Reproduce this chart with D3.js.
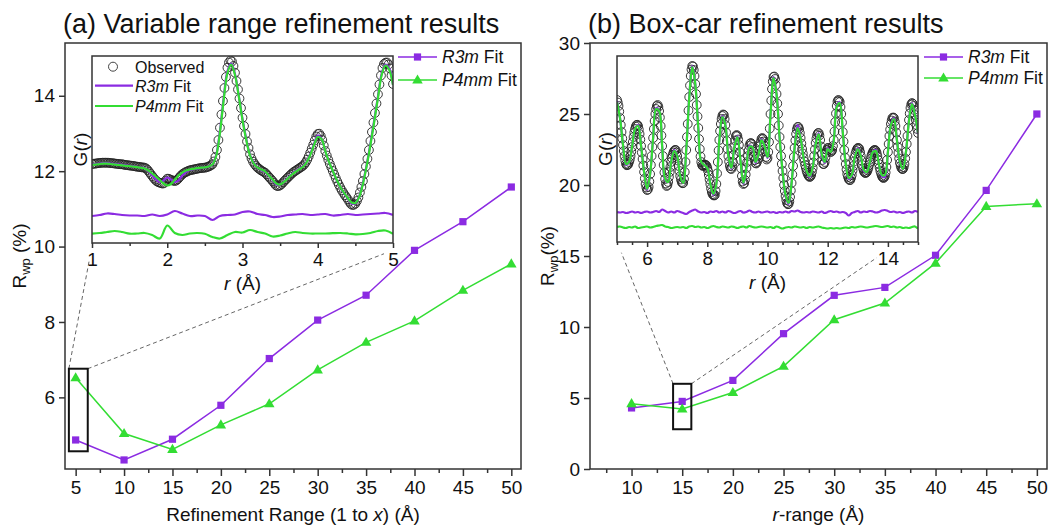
<!DOCTYPE html>
<html>
<head>
<meta charset="utf-8">
<script src="https://cdn.jsdelivr.net/npm/d3@7"></script>
<style>
  body { margin: 0; background: #fff; }
  text { font-family: "Liberation Sans", Arial, sans-serif; fill: #111; }
</style>
</head>
<body>
<svg id="chart" width="1057" height="529"></svg>
<script>
/*
 * Two panels of Rwp vs refinement range, each with a G(r) inset
 * Uses d3.js v7
 */

// ---- main panel data ----
var rangeA = [5, 10, 15, 20, 25, 30, 35, 40, 45, 50];
var rwpR3mA = [4.87, 4.34, 4.89, 5.79, 7.03, 8.05, 8.71, 9.90, 10.66, 11.58];
var rwpP4mmA = [6.52, 5.04, 4.62, 5.27, 5.83, 6.73, 7.46, 8.03, 8.84, 9.54];

var rangeB = [10, 15, 20, 25, 30, 35, 40, 45, 50];
var rwpR3mB = [4.30, 4.76, 6.24, 9.53, 12.23, 12.79, 15.05, 19.62, 25.0];
var rwpP4mmB = [4.60, 4.22, 5.39, 7.23, 10.51, 11.69, 14.50, 18.49, 18.68];

// ---- tick labels ----
var xTicksA = [5, 10, 15, 20, 25, 30, 35, 40, 45, 50];
var xMinorA = [7.5, 12.5, 17.5, 22.5, 27.5, 32.5, 37.5, 42.5, 47.5];
var yTicksA = [6, 8, 10, 12, 14];
var xTicksB = [10, 15, 20, 25, 30, 35, 40, 45, 50];
var xMinorB = [7.5, 12.5, 17.5, 22.5, 27.5, 32.5, 37.5, 42.5, 47.5];
var yTicksB = [0, 5, 10, 15, 20, 25, 30];
var insetTicksA = [1, 2, 3, 4, 5];
var insetMinorA = [1.5, 2.5, 3.5, 4.5];
var insetTicksB = [6, 8, 10, 12, 14];
var insetMinorB = [5, 5.5, 6.5, 7, 7.5, 8.5, 9, 9.5, 10.5, 11, 11.5, 12.5, 13, 13.5, 14.5, 15];

// zoom boxes and dashed connectors (in main-axis units)
var zoomBoxA = [4.3, 6.25, 4.57, 6.76];   // x0, x1, y0, y1
var connectA = [[6.38, 9.6], [36.85, 9.81]];
var zoomBoxB = [14.1, 15.9, 2.8, 6.0];
var connectB = [[9.0, 15.23], [34.2, 14.88]];

// ---- inset (a): G(r), arbitrary units, r = 1..5 ----
var obsStartA = 1, obsStepA = 0.02;
var gObsA = [
  79,79.2,79.4,79.6,79.8,80,80.2,80.3,80.3,80.3,
  80.3,80.2,80,79.9,79.7,79.5,79.3,79.1,78.9,78.8,
  78.7,78.4,78.1,77.9,77.7,77.5,77.3,77.1,76.9,76.6,
  76.3,76.1,75.9,75.7,75.5,75.3,74.5,73,71,69,
  67,65,63.2,61.8,60.8,60.3,59.8,59.4,60,62.5,
  64.3,64.2,63.4,62.8,62.3,62,62.5,63.8,65.5,67.2,
  68.7,69.8,70.7,71.4,72.1,72.7,73,73.3,73.7,74,
  74.3,74.6,74.9,75.1,75.2,75.3,75.7,76.2,76.8,77.6,
  78.7,81.5,86,93,103,115.3,128.5,142,155,166,
  175.3,180.5,182.5,181.5,177,170.3,162,153.5,144.5,135,
  125.3,117,109,101.5,95,88.7,84.5,81.3,79,77,
  75.3,74.2,73,72,71.2,70.3,68.7,67,65.3,63.7,
  62,60,58,57,57,57.7,59,60.7,62.3,63.8,
  65.3,66.8,68.3,69.7,71,72,73,74,75,76,
  77,78.6,80.6,83.3,86.5,90.3,94.3,98.3,102.5,106.5,
  109,109.3,107,103,97.5,92,87.5,83.2,79.2,75.6,
  72,68.4,64.8,61.4,58.3,55.3,52.6,50.2,47.8,45.8,
  43.7,41.2,39,38,38.3,39.3,42,45.5,50.5,56,
  62,69,76.5,84.2,93,102,111,120.5,130,139.5,
  148.7,158.5,167.5,175,179,180.3,180.5,178.5,174.5,167.5,
  159
];
var fitStartA = 1, fitStepA = 0.05;
var gFitR3mA = [
  78.5,79,79.5,79.8,79.8,79.5,79,78.5,78.2,77.6,
  77.1,76.6,76,75.5,74.8,72,67.5,63.5,61,62.5,
  65.5,63.5,61,62.5,67.5,71,73,74,74.6,75.2,
  75.5,76.5,78.6,88,112,145,172,179.5,169,147.5,
  124,104,88,79.8,75.5,73,71,67,63,58.5,
  58.5,61.2,65,68.5,71.5,74,76.5,81,89,99,
  107.5,104.5,92,81,72,63.2,55.8,49.5,44.5,39.5,
  39.7,46.5,60,78,99.5,122.5,146.5,169.5,178.5,174.5,
  158.5
];
var gFitP4mmA = [
  78,78.5,79,79.3,79.3,79,78.5,78,77.7,77.2,
  76.8,76.3,75.8,75.3,74.5,72.5,69.5,66.5,63,59.5,
  57.5,59,63.5,67.5,70.5,72.5,73.5,74.2,74.8,75.3,
  75.6,76.5,78.5,87,110,143,170,178.5,168,147,
  123,103,87.5,79.5,75.5,73.5,71.5,67.5,63.5,59.5,
  58.5,61,64.5,68,71,73.5,76,80.5,88,98,
  106,104,92,81,72,63.5,56,50,45,40.5,
  40,46,59,77,98,121,145,168,177.5,173,
  158
];
var diffStartA = 1, diffStepA = 0.1;
var gDiffR3mA = [
  27,28,29.5,29,28,27.5,27.5,27,28.5,27,
  28.5,32,29.5,27,27.5,27,23,27,28,28.5,
  31,31.5,29,28,26,26.5,28,28.5,29,28,
  28.5,29,27.5,28,29,28,28.5,29,29.5,30,
  28
];
var gDiffP4mmA = [
  9.3,10,11,12,11,9.3,9.5,10,8,4.5,
  17.5,10,8,9.5,10,9.3,6,4.5,8,11,
  10.5,13,11,9.5,6.5,7.5,9.5,11,10,9.5,
  9.5,9.5,9.8,10,9.5,8.7,9,10,12,12.5,
  9.3
];

// ---- inset (b): G(r), arbitrary units, r = 5..15 ----
var obsStartB = 5, obsStepB = 0.025;
var gObsB = [
  142,139.5,136,130.5,124,117,110,103.5,97,91,86,81.5,78,76.8,77,78,80,82.5,86,90.5,
  95,100,105,109.5,113,115.5,117,117.2,116,112.5,108,102.5,96,89.5,83,76.5,70,63.5,58,54.5,
  52,52.5,55,60.5,68,77,86,95,104,113,121,128,133,136,137,135,131,124.5,116,106.5,
  96,86,77,69.5,63,58.5,56,57,60,65,70,75,80,84,87,89.5,91,92,92,89.5,
  86,81.5,76,71,66,62.5,60,58.8,59,63,70,80,92,105,118,131.5,145,156.5,166,172.5,
  176,175.5,172,166,158,148,137,125.5,114,103,93,85.5,80,77,76,76.3,77,77.3,77,76,
  74,71,67,62.5,58,53.5,50,48,47,46.5,47,51,58,68.5,80,91.5,102,111,118,123,
  126,127.5,127,123,117,109.5,101,93,86,80.5,76,73.5,73,75.5,80,87,95,101.5,106,107,
  106,102.5,97,90,82,73.5,66,60.5,58,58.8,62,67.5,74,80,86,91.5,96,98.5,99,97.8,
  95,90.5,86,81.8,79,78.5,80,83,87,91.5,96,100,103,104,103,100.5,96,90.5,85,82.5,
  84,90,100,113.5,128,141.5,153,160.5,165,165.5,163,157,148,138.5,128,116.5,105,95,86,78,
  71,64,57,51,46,42,39,37.8,38,40.5,45,51.5,59,67.5,76,85,94,101.5,108,112.5,
  115,115,113,109,104,98.5,93,88.5,84,80.5,77,74,71,69,67,65.8,65,65.5,67,70,
  74,79.5,86,92.5,99,103.5,107,108.8,109,106.5,102,95.5,88,82,78,78,80,84.5,89,92,
  94,94,93,91.5,90,90.5,92,96,102,110.5,120,128.5,136,140.5,142,141.5,140,135,128,119.5,
  110,100.5,92,84.5,78,72.5,68,65,63,62,62,64,67,71.5,76,80.5,85,88.5,91,93,
  94,94,93,90,86,81.5,77,73.5,71,69.5,69,69.3,70,71.8,74,77,80,83,86,88.3,
  90,91.3,92,92,91,89,86,82,78,74.3,71,68.3,66,64.7,64,64.5,66,69.5,75,82,
  90,98,106,112.5,118,121.5,124,124.5,124,120.5,116,109.5,102,95,89,83.5,79,76,74,73,
  73,74.8,78,83.5,90,98,106,114,122,128.5,134,137.5,139,138.2,136,132,127,122,117,113,
  109
];
var fitStartB = 5, fitStepB = 0.1;
var gFitR3mB = [
  141,124,97,77,80,95,113,117,96,70,
  52,68,104,134,131,96,62,60,80,92,
  86,66,59,92,145,176,158,114,80,77,
  74,58,47,58,102,126,117,86,73,95,
  106,82,58,74,96,95,79,87,103,96,
  84,128,165,148,105,71,46,38,59,94,
  117,104,84,71,65,74,99,109,87,79,
  94,90,102,136,140,110,78,63,66,85,
  94,86,71,70,80,90,92,78,66,65,
  90,118,124,102,79,73,90,122,139,127,
  108
];
var gFitP4mmB = [
  140,124,97,78,80,95,113,116,96,70,
  53,68,104,133,131,96,63,60,80,91,
  86,66,59,92,144,175,158,114,80,77,
  74,58,48,58,102,125,117,86,74,95,
  105,82,59,74,95,95,80,87,102,96,
  85,127,164,148,105,71,47,39,59,94,
  114,104,84,71,66,74,98,108,88,80,
  93,90,101,135,139,110,78,64,67,85,
  93,86,72,70,80,90,91,78,67,67,
  90,117,123,102,80,73,90,121,138,127,
  109
];
var diffStartB = 5, diffStepB = 0.1;
var gDiffR3mB = [
  30,29.5,30,29,29.5,30.5,29.5,30,29,30,
  30.5,29.5,30,31,30,32.5,31,29.5,30.5,29.5,
  31,30,29,28,30,31.5,32.5,30.5,29.5,30,
  29,30.5,30,31,29.5,30.5,29.5,31,30,29,
  30,31,29.5,30,31.5,30,29.5,30.5,29.5,30,
  30.5,29.5,30,29,30,29.5,30.5,29.5,31,30.5,
  31.5,30,29.5,30,29.5,30.5,30,29.5,30.5,29,
  30,31,30,30.5,29.5,30,29,26.5,29,30,
  31,29.5,30.5,30,31,30.5,29.5,30,31.5,32,
  31,30,30.5,29.5,30,29,30,30.5,29.5,31,
  30
];
var gDiffP4mmB = [
  15,15.5,14.5,14,15,14.5,15.5,14,14.5,15,
  15.5,14.5,15,16,16.5,17,15.5,15,14,14.5,
  15,14.5,15,14,15.5,16,15,15.5,14.5,15,
  14,15,16,15,14.5,15.5,15,14.5,15.5,15,
  14,15,15.5,14.5,16,15,14.5,15,15.5,15,
  14.5,15,14,15.5,14.5,13.5,14.5,15,14.5,15.5,
  15,14.5,15,14,15,14.5,15,15.5,14.5,14,
  13.5,14,13.5,14,13.5,14,14.5,14,15,14.5,
  15,15.5,15,14.5,15,15.5,16,15.5,15,15.5,
  16,15,15.5,14.5,15,14,14.5,14,15,15.5,
  13.5
];

var purple = "#8b2be2";
var green = "#33dd33";
var ink = "#333";

var svg = d3.select("#chart");

// italic/normal text pieces
function richText(sel, parts) {
  parts.forEach(function (p) {
    sel.append("tspan").attr("font-style", p[1] ? "italic" : null).text(p[0]);
  });
  return sel;
}

function styleAxis(ax, fontSize) {
  ax.select(".domain").remove();
  ax.selectAll(".tick line").attr("stroke", ink).attr("stroke-width", 1.5);
  ax.selectAll(".tick text").attr("font-size", fontSize).attr("fill", "#111")
    .style("font-family", '"Liberation Sans", Arial, sans-serif');
}

function marker(g, type, cx, cy, color) {
  if (type == "square") {
    g.append("rect").attr("x", cx - 3.6).attr("y", cy - 3.6)
      .attr("width", 7.2).attr("height", 7.2).attr("fill", color);
  } else {
    g.append("path").attr("d", d3.symbol(d3.symbolTriangle).size(48)())
      .attr("transform", "translate(" + cx + "," + (cy + 0.5) + ")").attr("fill", color);
  }
}

function mainPanel(p) {
  var x = d3.scaleLinear().domain(p.xDomain).range([p.left, p.right]);
  var y = d3.scaleLinear().domain(p.yDomain).range([p.bottom, p.top]);
  var g = svg.append("g");

  g.append("text").attr("x", p.left - 2).attr("y", 33).attr("font-size", 27).text(p.title);

  // axes
  var xa = g.append("g").attr("transform", "translate(0," + p.bottom + ")")
    .call(d3.axisBottom(x).tickValues(p.xTicks).tickSize(7).tickPadding(5));
  styleAxis(xa, 19);
  var xm = g.append("g").attr("transform", "translate(0," + p.bottom + ")")
    .call(d3.axisBottom(x).tickValues(p.xMinor).tickSize(4).tickFormat(""));
  styleAxis(xm, 19);
  var ya = g.append("g").attr("transform", "translate(" + p.left + ",0)")
    .call(d3.axisLeft(y).tickValues(p.yTicks).tickSize(6).tickPadding(4));
  styleAxis(ya, 19);

  g.append("rect").attr("x", p.left).attr("y", p.top)
    .attr("width", p.right - p.left).attr("height", p.bottom - p.top)
    .attr("fill", "none").attr("stroke", ink).attr("stroke-width", 1.5);

  // axis titles
  var xt = g.append("text").attr("x", (p.left + p.right) / 2).attr("y", 521)
    .attr("text-anchor", "middle").attr("font-size", 19);
  richText(xt, p.xLabel);
  var yt = g.append("text")
    .attr("transform", "translate(" + p.yLabelX + "," + ((p.top + p.bottom) / 2) + ") rotate(-90)")
    .attr("text-anchor", "middle").attr("font-size", 19);
  yt.append("tspan").text("R");
  yt.append("tspan").attr("font-size", 13).attr("dy", 4).text("wp");
  yt.append("tspan").attr("dy", -4).text(p.yTail);

  // dashed connectors from the zoom box to the inset
  var b = p.box;
  var corners = [[b[0], b[3]], [b[1], b[3]]];
  p.connect.forEach(function (c, i) {
    g.append("line")
      .attr("x1", x(corners[i][0])).attr("y1", y(corners[i][1]))
      .attr("x2", x(c[0])).attr("y2", y(c[1]))
      .attr("stroke", "#666").attr("stroke-width", 1).attr("stroke-dasharray", "4,3");
  });

  // series
  p.series.forEach(function (s) {
    var line = d3.line().x(function (d, i) { return x(p.xs[i]); }).y(function (d) { return y(d); });
    g.append("path").datum(s.values).attr("d", line)
      .attr("fill", "none").attr("stroke", s.color).attr("stroke-width", 1.5);
    s.values.forEach(function (v, i) { marker(g, s.marker, x(p.xs[i]), y(v), s.color); });
  });

  g.append("rect").attr("x", x(b[0])).attr("y", y(b[3]))
    .attr("width", x(b[1]) - x(b[0])).attr("height", y(b[2]) - y(b[3]))
    .attr("fill", "none").attr("stroke", "#111").attr("stroke-width", 2);

  // legend
  p.series.forEach(function (s, i) {
    var ly = p.top + p.legendRows[i];
    var lx = p.right - 123;
    g.append("line").attr("x1", lx).attr("x2", lx + 39).attr("y1", ly).attr("y2", ly)
      .attr("stroke", s.color).attr("stroke-width", 1.5);
    marker(g, s.marker, lx + 19.5, ly, s.color);
    var t = g.append("text").attr("x", lx + 44).attr("y", ly + 6).attr("font-size", 17.5);
    richText(t, [[s.name, true], [" Fit", false]]);
  });
}

function insetPanel(p) {
  var x = d3.scaleLinear().domain(p.rDomain).range([p.left, p.right]);
  var y = d3.scaleLinear().domain([0, p.bottom - p.top]).range([p.bottom, p.top]);
  var g = svg.append("g");

  g.append("rect").attr("x", p.left).attr("y", p.top)
    .attr("width", p.right - p.left).attr("height", p.bottom - p.top).attr("fill", "#fff");

  g.append("clipPath").attr("id", p.id).append("rect")
    .attr("x", p.left).attr("y", p.top)
    .attr("width", p.right - p.left).attr("height", p.bottom - p.top);
  var plot = g.append("g").attr("clip-path", "url(#" + p.id + ")");

  function curve(vals, start, step) {
    return d3.line().curve(d3.curveCatmullRom)
      .x(function (d, i) { return x(start + i * step); })
      .y(function (d) { return y(d); })(vals);
  }

  // observed points as open circles
  plot.selectAll("circle.obs").data(p.obs).enter().append("circle")
    .attr("class", "obs")
    .attr("cx", function (d, i) { return x(p.obsStart + i * p.obsStep); })
    .attr("cy", function (d) { return y(d); })
    .attr("r", 4.4)
    .attr("fill", "none").attr("stroke", "#222").attr("stroke-width", 0.9);

  plot.append("path").attr("d", curve(p.fitR3m, p.fitStart, p.fitStep))
    .attr("fill", "none").attr("stroke", purple).attr("stroke-width", 2.2);
  plot.append("path").attr("d", curve(p.fitP4mm, p.fitStart, p.fitStep))
    .attr("fill", "none").attr("stroke", green).attr("stroke-width", 2.2);
  plot.append("path").attr("d", curve(p.diffR3m, p.diffStart, p.diffStep))
    .attr("fill", "none").attr("stroke", purple).attr("stroke-width", 2.2);
  plot.append("path").attr("d", curve(p.diffP4mm, p.diffStart, p.diffStep))
    .attr("fill", "none").attr("stroke", green).attr("stroke-width", 2.2);

  // axis
  var xa = g.append("g").attr("transform", "translate(0," + p.bottom + ")")
    .call(d3.axisBottom(x).tickValues(p.ticks).tickSize(5).tickPadding(5).tickFormat(d3.format("d")));
  styleAxis(xa, 19);
  var xm = g.append("g").attr("transform", "translate(0," + p.bottom + ")")
    .call(d3.axisBottom(x).tickValues(p.minor).tickSize(3).tickFormat(""));
  styleAxis(xm, 19);

  g.append("rect").attr("x", p.left).attr("y", p.top)
    .attr("width", p.right - p.left).attr("height", p.bottom - p.top)
    .attr("fill", "none").attr("stroke", ink).attr("stroke-width", 1.5);

  var xt = g.append("text").attr("x", (p.left + p.right) / 2).attr("y", p.bottom + 47)
    .attr("text-anchor", "middle").attr("font-size", 19);
  richText(xt, [["r", true], [" (\u00c5)", false]]);
  var yt = g.append("text")
    .attr("transform", "translate(" + (p.left - 5) + "," + ((p.top + p.bottom) / 2) + ") rotate(-90)")
    .attr("text-anchor", "middle").attr("font-size", 19);
  richText(yt, [["G(", false], ["r", true], [")", false]]);

  if (p.legend) {
    var lx = p.left + 3, rows = [10.7, 29.7, 50];
    g.append("circle").attr("cx", lx + 18).attr("cy", p.top + rows[0])
      .attr("r", 4.5).attr("fill", "none").attr("stroke", "#444").attr("stroke-width", 1);
    g.append("text").attr("x", lx + 40).attr("y", p.top + rows[0] + 6)
      .attr("font-size", 16).text("Observed");
    [[purple, "R3m"], [green, "P4mm"]].forEach(function (s, i) {
      var ly = p.top + rows[i + 1];
      g.append("line").attr("x1", lx).attr("x2", lx + 38).attr("y1", ly).attr("y2", ly)
        .attr("stroke", s[0]).attr("stroke-width", 2.2);
      var t = g.append("text").attr("x", lx + 40).attr("y", ly + 6).attr("font-size", 16);
      richText(t, [[s[1], true], [" Fit", false]]);
    });
  }
}

mainPanel({
  title: "(a) Variable range refinement results",
  left: 65, right: 521, top: 43, bottom: 469,
  xDomain: [3.9, 51], yDomain: [4.1, 15.4],
  xTicks: xTicksA, xMinor: xMinorA, yTicks: yTicksA,
  xLabel: [["Refinement Range (1 to ", false], ["x", true], [") (\u00c5)", false]],
  yLabelX: 26, yTail: " (%)",
  xs: rangeA,
  series: [
    { name: "R3m", values: rwpR3mA, color: purple, marker: "square" },
    { name: "P4mm", values: rwpP4mmA, color: green, marker: "triangle" }
  ],
  box: zoomBoxA, connect: connectA, legendRows: [14, 37]
});

mainPanel({
  title: "(b) Box-car refinement results",
  left: 590, right: 1047, top: 43, bottom: 469,
  xDomain: [5.9, 51], yDomain: [0, 30],
  xTicks: xTicksB, xMinor: xMinorB, yTicks: yTicksB,
  xLabel: [["r", true], ["-range (\u00c5)", false]],
  yLabelX: 554, yTail: "(%)",
  xs: rangeB,
  series: [
    { name: "R3m", values: rwpR3mB, color: purple, marker: "square" },
    { name: "P4mm", values: rwpP4mmB, color: green, marker: "triangle" }
  ],
  box: zoomBoxB, connect: connectB, legendRows: [14, 35]
});

insetPanel({
  id: "clipA", left: 92, right: 393, top: 56, bottom: 243,
  rDomain: [1, 5], ticks: insetTicksA, minor: insetMinorA,
  obs: gObsA, obsStart: obsStartA, obsStep: obsStepA,
  fitR3m: gFitR3mA, fitP4mm: gFitP4mmA, fitStart: fitStartA, fitStep: fitStepA,
  diffR3m: gDiffR3mA, diffP4mm: gDiffP4mmA, diffStart: diffStartA, diffStep: diffStepA,
  legend: true
});

insetPanel({
  id: "clipB", left: 617, right: 918, top: 56, bottom: 242,
  rDomain: [5, 15], ticks: insetTicksB, minor: insetMinorB,
  obs: gObsB, obsStart: obsStartB, obsStep: obsStepB,
  fitR3m: gFitR3mB, fitP4mm: gFitP4mmB, fitStart: fitStartB, fitStep: fitStepB,
  diffR3m: gDiffR3mB, diffP4mm: gDiffP4mmB, diffStart: diffStartB, diffStep: diffStepB,
  legend: false
});
</script>
</body>
</html>
